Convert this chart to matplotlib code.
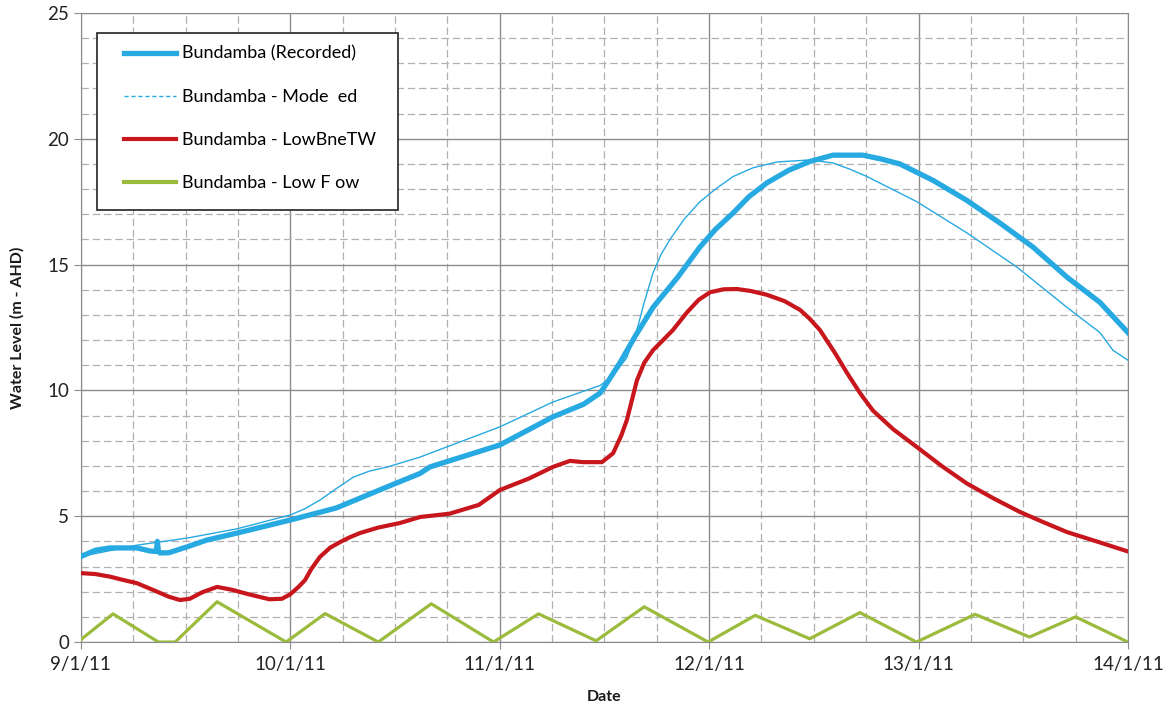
import matplotlib as mpl
mpl.use("Agg")
import matplotlib.pyplot as plt
import matplotlib.dates as mdates
from matplotlib.lines import Line2D
from matplotlib.patches import Rectangle
import pandas as pd

START = pd.Timestamp("2011-01-09")

# values (days after 9/1/11, water level m AHD)
rec_days = [0.0, 0.07, 0.138, 0.267, 0.33, 0.36, 0.365, 0.37, 0.377, 0.42, 0.506, 0.6, 0.745,
            1.0, 1.22, 1.46, 1.619, 1.667, 2.0, 2.254, 2.4, 2.48, 2.52, 2.574, 2.65, 2.732,
            2.85, 2.956, 3.03, 3.114, 3.19, 3.276, 3.38, 3.481, 3.591, 3.734, 3.82, 3.911,
            4.069, 4.231, 4.389, 4.546, 4.709, 4.866, 5.0]
rec_level = [3.4, 3.65, 3.74, 3.74, 3.62, 3.6, 4.0, 3.6, 3.54, 3.55, 3.78, 4.05, 4.33,
             4.85, 5.33, 6.16, 6.7, 6.96, 7.83, 8.95, 9.45, 9.9, 10.4, 11.1, 12.2, 13.3,
             14.5, 15.7, 16.4, 17.05, 17.7, 18.25, 18.75, 19.1, 19.35, 19.35, 19.2, 19.0,
             18.35, 17.55, 16.65, 15.7, 14.5, 13.5, 12.3]

mod_days = [0.0, 0.267, 0.506, 0.745, 1.0, 1.07, 1.141, 1.22, 1.3, 1.38, 1.461, 1.619,
            2.0, 2.254, 2.48, 2.512, 2.56, 2.607, 2.655, 2.69, 2.732, 2.77, 2.813, 2.88,
            2.956, 3.03, 3.114, 3.21, 3.324, 3.481, 3.591, 3.67, 3.754, 3.992, 4.231,
            4.47, 4.709, 4.866, 4.928, 5.0]
mod_level = [3.4, 3.85, 4.13, 4.5, 5.05, 5.3, 5.64, 6.1, 6.55, 6.8, 6.95, 7.35,
             8.55, 9.54, 10.2, 10.4, 10.8, 11.3, 12.4, 13.5, 14.67, 15.4, 16.0, 16.8,
             17.5, 18.0, 18.5, 18.85, 19.08, 19.16, 19.04, 18.8, 18.5, 17.5, 16.26,
             14.9, 13.3, 12.3, 11.6, 11.2]

low_bne_days = [0.0, 0.07, 0.138, 0.2, 0.267, 0.35, 0.42, 0.473, 0.52, 0.58, 0.65, 0.72,
                0.8, 0.9, 0.96, 1.0, 1.04, 1.07, 1.1, 1.141, 1.19, 1.237, 1.28, 1.332,
                1.42, 1.523, 1.62, 1.76, 1.9, 2.0, 2.14, 2.254, 2.335, 2.397, 2.488,
                2.541, 2.58, 2.607, 2.655, 2.69, 2.732, 2.78, 2.827, 2.894, 2.95, 3.004,
                3.07, 3.133, 3.2, 3.276, 3.36, 3.434, 3.48, 3.529, 3.6, 3.658, 3.72,
                3.782, 3.88, 3.992, 4.11, 4.231, 4.36, 4.484, 4.6, 4.709, 4.85, 5.0]
low_bne_level = [2.74, 2.7, 2.6, 2.47, 2.34, 2.05, 1.8, 1.67, 1.72, 1.98, 2.19, 2.08,
                 1.9, 1.7, 1.72, 1.9, 2.2, 2.46, 2.9, 3.38, 3.75, 3.97, 4.15, 4.33,
                 4.55, 4.73, 4.97, 5.1, 5.45, 6.04, 6.5, 6.96, 7.2, 7.15, 7.15,
                 7.5, 8.2, 8.82, 10.4, 11.1, 11.6, 12.0, 12.4, 13.1, 13.6, 13.9,
                 14.02, 14.03, 13.95, 13.8, 13.55, 13.2, 12.85, 12.4, 11.5, 10.7, 9.9,
                 9.2, 8.45, 7.75, 7.0, 6.3, 5.7, 5.17, 4.75, 4.37, 4.0, 3.6]

low_flow_days = [0.0, 0.153, 0.37, 0.45, 0.65, 0.98, 1.166, 1.42, 1.673, 1.97, 2.185,
                 2.46, 2.69, 2.995, 3.22, 3.48, 3.72, 3.99, 4.27, 4.53, 4.75, 5.0]
low_flow_level = [0.1, 1.12, 0.0, 0.0, 1.6, 0.0, 1.13, 0.0, 1.52, 0.0, 1.12,
                  0.05, 1.4, 0.0, 1.06, 0.13, 1.17, 0.0, 1.1, 0.2, 1.0, 0.0]

labels = ["Bundamba (Recorded)", "Bundamba - Mode  ed",
          "Bundamba - LowBneTW", "Bundamba - Low F ow"]


def to_dates(days):
    return START + pd.to_timedelta(days, unit="D")


BLUE = "#27a9e1"
RED = "#c8161d"
GREEN = "#9bbb3c"

plt.rcParams["font.family"] = ["Lato", "DejaVu Sans"]

fig = plt.figure(figsize=(11.73, 7.11), dpi=100)
ax = fig.add_axes([0.069, 0.097, 0.8926, 0.8847])

ax.plot(to_dates(low_flow_days), low_flow_level, color=GREEN, lw=2.3, zorder=3)
ax.plot(to_dates(low_bne_days), low_bne_level, color=RED, lw=3.0, zorder=4)
ax.plot(to_dates(rec_days), rec_level, color=BLUE, lw=3.8, zorder=5)
ax.plot(to_dates(mod_days), mod_level, color=BLUE, lw=1.0, zorder=6)

ax.set_xlim(START, START + pd.Timedelta(days=5))
ax.set_ylim(0, 25)
ax.set_yticks(range(0, 26, 5))
ax.set_yticks(range(0, 26, 1), minor=True)
ax.xaxis.set_major_locator(mdates.DayLocator())
ax.xaxis.set_major_formatter(mdates.DateFormatter("%-d/%-m/%y"))
ax.xaxis.set_minor_locator(mdates.HourLocator(byhour=[6, 12, 18]))

ax.grid(which="major", color="#8c8c8c", lw=1.0, zorder=1)
ax.grid(which="minor", color="#b0b0b0", lw=0.9, ls=(0, (6, 3)), zorder=1)
ax.set_axisbelow(True)
for s in ax.spines.values():
    s.set_color("#8c8c8c")

ax.tick_params(axis="both", which="major", labelsize=13.5, colors="#8c8c8c",
               labelcolor="#222222", length=5)
ax.tick_params(axis="x", which="major", pad=5)
ax.tick_params(which="minor", length=0)

ax.set_xlabel("Date", fontsize=11.5, fontweight="bold", color="#1a1a1a", labelpad=12)
ax.set_ylabel("Water Level (m - AHD)", fontsize=11.5, fontweight="bold",
              color="#1a1a1a", labelpad=16)

# legend frame drawn separately (wide padding like the original)
ax.add_patch(Rectangle((0.0153, 0.687), 0.2875, 0.281, transform=ax.transAxes,
                       facecolor="white", edgecolor="#222222", lw=1.2, zorder=9))
handles = [Line2D([], [], color=BLUE, lw=3.8),
           Line2D([], [], color=BLUE, lw=1.0, ls=(0, (3, 2))),
           Line2D([], [], color=RED, lw=3.0),
           Line2D([], [], color=GREEN, lw=3.0)]
leg = ax.legend(handles, labels, loc="upper left", bbox_to_anchor=(0.041, 0.948),
                fontsize=13, frameon=False, handlelength=2.9, handletextpad=0.3,
                labelspacing=1.5, borderpad=0, borderaxespad=0)
leg.set_zorder(10)

fig.savefig("out.png", dpi=100)
